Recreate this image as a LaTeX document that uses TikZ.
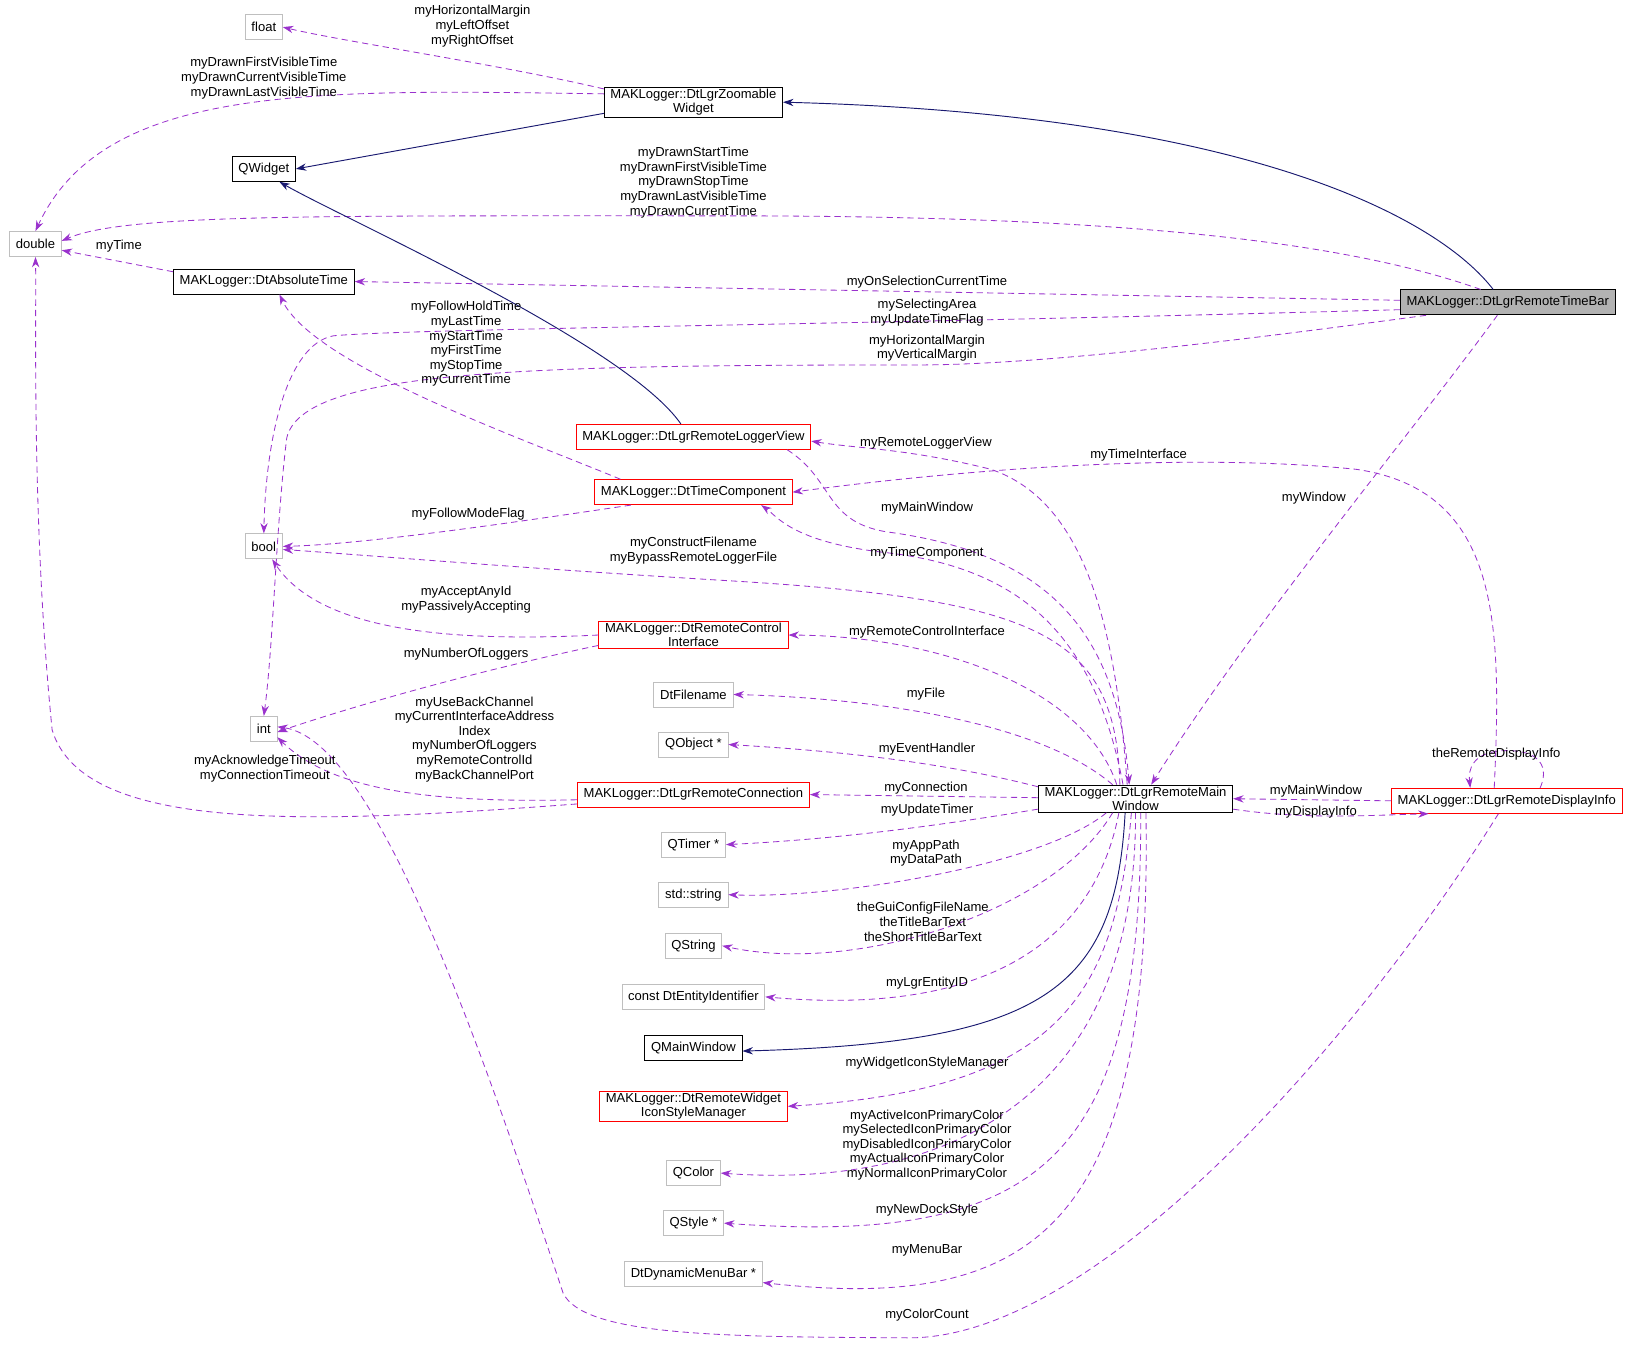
\documentclass[tikz,border=0pt]{standalone}
\usepackage{fontspec}
\setmainfont{Liberation Sans}
\usetikzlibrary{arrows.meta}
\begin{document}
\begin{tikzpicture}[x=1pt,y=-1pt,
  box/.style={draw,rectangle,inner xsep=6pt,inner ysep=2pt,minimum height=24pt,align=center,font=\fontsize{12.5}{13}\selectfont,line width=0.8pt},
  gn/.style={box,draw=black!25},
  bn/.style={box,draw=black},
  rn/.style={box,draw=red},
  lab/.style={align=center,font=\fontsize{12.5}{14}\selectfont,inner sep=0pt},
  dep/.style={draw={rgb,255:red,154;green,50;blue,205},dashed,dash pattern=on 6pt off 4pt,line width=0.8pt,-{Stealth[length=10pt,width=7pt,fill={rgb,255:red,154;green,50;blue,205}]}},
  inh/.style={draw={rgb,255:red,25;green,25;blue,112},line width=0.9pt,-{Stealth[length=10pt,width=7pt]}}]
\useasboundingbox (0,0) rectangle (1568,1289);
\node[gn] (float) at (253,26) {float};
\node[bn] (zw) at (665,98) {MAKLogger::DtLgrZoomable\\Widget};
\node[bn] (qw) at (253,162) {QWidget};
\node[gn] (dbl) at (34,234) {double};
\node[bn] (abs) at (253,270) {MAKLogger::DtAbsoluteTime};
\node[box,fill=black!30] (tb) at (1446,290) {MAKLogger::DtLgrRemoteTimeBar};
\node[gn] (bool) at (253,524) {bool};
\node[gn] (int) at (253,699) {int};
\node[rn] (lv) at (665,419) {MAKLogger::DtLgrRemoteLoggerView};
\node[rn] (tc) at (665,472) {MAKLogger::DtTimeComponent};
\node[rn] (rci) at (665,609) {MAKLogger::DtRemoteControl\\Interface};
\node[gn] (fn) at (665,666) {DtFilename};
\node[gn] (qo) at (665,714) {QObject *};
\node[rn] (conn) at (665,762) {MAKLogger::DtLgrRemoteConnection};
\node[gn] (qt) at (665,810) {QTimer *};
\node[gn] (ss) at (665,858) {std::string};
\node[gn] (qs) at (665,907) {QString};
\node[gn] (ent) at (665,956) {const DtEntityIdentifier};
\node[bn] (qmw) at (665,1005) {QMainWindow};
\node[rn] (sm) at (665,1061) {MAKLogger::DtRemoteWidget\\IconStyleManager};
\node[gn] (qc) at (665,1125) {QColor};
\node[gn] (qst) at (665,1173) {QStyle *};
\node[gn] (mb) at (665,1222) {DtDynamicMenuBar *};
\node[bn] (mw) at (1089,766) {MAKLogger::DtLgrRemoteMain\\Window};
\node[rn] (di) at (1445,768) {MAKLogger::DtLgrRemoteDisplayInfo};

% edges
\draw[dep] ([yshift=-2pt]zw.north west) .. controls (480,62) and (330,40) .. (float.east);
\draw[dep] ([yshift=8pt]zw.west) .. controls (300,86) and (100,80) .. (dbl.north);
\draw[inh] ([yshift=4pt]zw.south west) -- (qw.east);
\draw[inh] ([xshift=-14pt]tb.north) .. controls (1380,210) and (1200,110) .. (zw.east);
\draw[dep] ([xshift=-26pt]tb.north) .. controls (1300,235) and (1100,207) .. (700,207) .. controls (300,207) and (120,205) .. ([yshift=3pt]dbl.east);
\draw[dep] ([yshift=-3pt]abs.north west) -- ([yshift=-6pt]dbl.east);
\draw[dep] ([yshift=2pt]tb.west) -- (abs.east);
\draw[dep] ([yshift=-7pt]tb.west) .. controls (800,312) and (400,315) .. (320,322) .. controls (275,330) and (255,420) .. (bool.north);
\draw[dep] ([xshift=25pt]tb.south west) .. controls (1200,325) and (1000,350) .. (880,350) .. controls (500,350) and (290,355) .. (275,420) .. controls (265,500) and (262,620) .. (int.north);
\draw[inh] ([xshift=-12pt]lv.north) .. controls (600,330) and (330,210) .. ([xshift=15pt]qw.south);
\draw[dep] ([xshift=-70pt]tc.north) .. controls (500,420) and (300,350) .. ([xshift=15pt]abs.south);
\draw[dep] ([xshift=-60pt]tc.south) .. controls (500,500) and (350,522) .. (bool.east);
\draw[dep] ([xshift=-15pt]mw.north) .. controls (1070,610) and (1000,575) .. (700,557) .. controls (500,545) and (320,530) .. ([yshift=-3pt]bool.east);
\draw[dep] (rci.west) .. controls (450,615) and (310,610) .. ([xshift=8pt]bool.south);
\draw[dep] ([yshift=-10pt]rci.west) .. controls (450,645) and (330,680) .. ([yshift=-3pt]int.east);
\draw[dep] ([yshift=-5pt]conn.west) .. controls (420,770) and (320,760) .. ([yshift=-8pt]int.east);
\draw[dep] ([yshift=-9pt]conn.west) .. controls (300,790) and (80,800) .. (50,700) .. controls (30,500) and (35,300) .. (dbl.south);
\draw[dep] ([xshift=-8pt]mw.north) .. controls (1070,600) and (1040,480) .. (950,450) .. controls (870,430) and (820,430) .. ([yshift=-4pt]lv.east);
\draw[dep] ([xshift=90pt]lv.south) .. controls (800,460) and (790,500) .. (850,510) .. controls (1000,530) and (1070,600) .. ([xshift=-6pt]mw.north);
\draw[dep] ([xshift=-12pt]di.north) .. controls (1440,600) and (1440,470) .. (1300,450) .. controls (1100,430) and (850,460) .. (tc.east);
\draw[dep] ([xshift=-12pt]mw.north) .. controls (1050,610) and (980,545) .. (850,530) .. controls (760,520) and (745,495) .. ([xshift=65pt]tc.south);
\draw[dep] ([xshift=-10pt]tb.south) .. controls (1350,420) and (1200,600) .. ([xshift=15pt]mw.north);
\draw[dep] ([xshift=-18pt]mw.north) .. controls (1040,660) and (900,610) .. (rci.east);
\draw[dep] ([xshift=-22pt]mw.north) .. controls (1000,695) and (850,670) .. (fn.east);
\draw[dep] ([yshift=-2pt]mw.north west) .. controls (900,730) and (800,720) .. (qo.east);
\draw[dep] ([yshift=1pt]mw.west) -- (conn.east);
\draw[dep] ([yshift=-10pt]mw.west) .. controls (900,792) and (800,805) .. (qt.east);
\draw[dep] ([xshift=-28pt]mw.south) .. controls (1000,830) and (800,862) .. (ss.east);
\draw[dep] ([xshift=-22pt]mw.south) .. controls (1010,875) and (820,935) .. (qs.east);
\draw[dep] ([xshift=-16pt]mw.south) .. controls (1050,900) and (950,975) .. (ent.east);
\draw[inh] ([xshift=-10pt]mw.south) .. controls (1070,950) and (1000,1000) .. ([yshift=-3pt]qmw.east);
\draw[dep] ([xshift=-4pt]mw.south) .. controls (1070,960) and (1010,1045) .. (sm.east);
\draw[dep] (mw.south) .. controls (1090,1060) and (900,1140) .. (qc.east);
\draw[dep] ([xshift=5pt]mw.south) .. controls (1095,1110) and (1000,1195) .. (qst.east);
\draw[dep] ([xshift=10pt]mw.south) .. controls (1105,1170) and (1000,1260) .. ([yshift=-8pt]mb.east);
\draw[dep] (di.west) -- (mw.east);
\draw[dep] ([yshift=-10pt]mw.east) .. controls (1250,786) and (1310,782) .. ([xshift=-75pt]di.south);
\draw[dep] ([xshift=32pt]di.north) .. controls (1485,738) and (1480,718) .. (1440,720) .. controls (1412,722) and (1408,738) .. ([xshift=-35pt]di.north);
\draw[dep] ([xshift=-8pt]di.south) .. controls (1300,1000) and (1050,1285) .. (870,1283) .. controls (700,1282) and (560,1282) .. (540,1240) .. controls (460,1000) and (360,710) .. ([yshift=2pt]int.east);

% labels
\node[lab] (l1) at (453,25) {myHorizontalMargin\\myLeftOffset\\myRightOffset};
\node[lab] (l2) at (253,75) {myDrawnFirstVisibleTime\\myDrawnCurrentVisibleTime\\myDrawnLastVisibleTime};
\node[lab] (l5) at (665,175) {myDrawnStartTime\\myDrawnFirstVisibleTime\\myDrawnStopTime\\myDrawnLastVisibleTime\\myDrawnCurrentTime};
\node[lab] (l6) at (114,236) {myTime};
\node[lab] (l7) at (889,271) {myOnSelectionCurrentTime};
\node[lab] (l8) at (889,300) {mySelectingArea\\myUpdateTimeFlag};
\node[lab] (l9) at (889,334) {myHorizontalMargin\\myVerticalMargin};
\node[lab] (l11) at (447,330) {myFollowHoldTime\\myLastTime\\myStartTime\\myFirstTime\\myStopTime\\myCurrentTime};
\node[lab] (l12) at (449,493) {myFollowModeFlag};
\node[lab] (l13) at (665,528) {myConstructFilename\\myBypassRemoteLoggerFile};
\node[lab] (l14) at (447,575) {myAcceptAnyId\\myPassivelyAccepting};
\node[lab] (l15) at (447,627) {myNumberOfLoggers};
\node[lab] (l16) at (455,709) {myUseBackChannel\\myCurrentInterfaceAddress\\Index\\myNumberOfLoggers\\myRemoteControlId\\myBackChannelPort};
\node[lab] (l17) at (254,737) {myAcknowledgeTimeout\\myConnectionTimeout};
\node[lab] (l18) at (888,425) {myRemoteLoggerView};
\node[lab] (l19) at (889,487) {myMainWindow};
\node[lab] (l20) at (1092,436) {myTimeInterface};
\node[lab] (l21) at (889,530) {myTimeComponent};
\node[lab] (l22) at (1260,478) {myWindow};
\node[lab] (l23) at (889,606) {myRemoteControlInterface};
\node[lab] (l24) at (888,666) {myFile};
\node[lab] (l25) at (889,718) {myEventHandler};
\node[lab] (l26) at (888,756) {myConnection};
\node[lab] (l27) at (889,777) {myUpdateTimer};
\node[lab] (l28) at (888,818) {myAppPath\\myDataPath};
\node[lab] (l29) at (885,884) {theGuiConfigFileName\\theTitleBarText\\theShortTitleBarText};
\node[lab] (l30) at (889,943) {myLgrEntityID};
\node[lab] (l32) at (889,1020) {myWidgetIconStyleManager};
\node[lab] (l33) at (889,1098) {myActiveIconPrimaryColor\\mySelectedIconPrimaryColor\\myDisabledIconPrimaryColor\\myActualIconPrimaryColor\\myNormalIconPrimaryColor};
\node[lab] (l34) at (889,1161) {myNewDockStyle};
\node[lab] (l35) at (889,1199) {myMenuBar};
\node[lab] (l36) at (1262,759) {myMainWindow};
\node[lab] (l37) at (1262,779) {myDisplayInfo};
\node[lab] (l38) at (1435,723) {theRemoteDisplayInfo};
\node[lab] (l39) at (889,1261) {myColorCount};
\end{tikzpicture}
\end{document}
